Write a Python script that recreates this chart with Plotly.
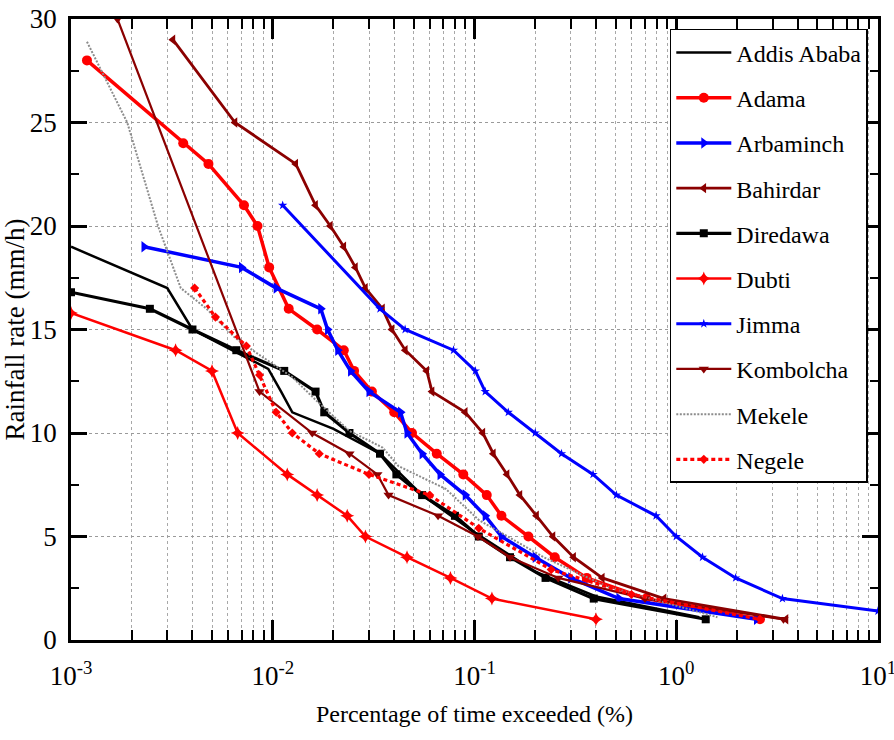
import plotly.graph_objects as go

# Percentage of time exceeded (%) and rainfall rate (mm/h) per station
addis_x = [0.001, 0.003, 0.004, 0.006, 0.0095, 0.011, 0.0125, 0.02, 0.034, 0.055, 0.1, 0.2, 0.4, 1.3]
addis_y = [19, 17, 15, 14.1, 13.1, 12, 11, 10.2, 9, 7, 5.2, 3.3, 2.1, 1.1]

adama_x = [0.0012, 0.0036, 0.0048, 0.0072, 0.0084, 0.0096, 0.012, 0.0166, 0.0225, 0.0253,
           0.031, 0.04, 0.049, 0.065, 0.088, 0.115, 0.136, 0.185, 0.25, 0.36, 0.71, 2.6]
adama_y = [28, 24, 23, 21, 20, 18, 16, 15, 14, 13, 12, 11, 10, 9, 8, 7, 6, 5, 4, 3, 2, 1]

arbaminch_x = [0.0023, 0.007, 0.0104, 0.0173, 0.0187, 0.021, 0.0243, 0.03, 0.043, 0.0463,
               0.055, 0.0675, 0.09, 0.113, 0.136, 0.2, 0.3, 0.52, 2.5]
arbaminch_y = [19, 18, 17, 16, 15, 14, 13, 12, 11, 10, 9, 8, 7, 6, 5, 4, 3, 2, 1]

bahirdar_x = [0.0032, 0.0065, 0.013, 0.0163, 0.0193, 0.0225, 0.0257, 0.0288, 0.035, 0.039,
              0.0454, 0.058, 0.0616, 0.09, 0.11, 0.124, 0.145, 0.168, 0.203, 0.245, 0.31,
              0.43, 0.87, 3.5]
bahirdar_y = [29, 25, 23, 21, 20, 19, 18, 17, 16, 15, 14, 13, 12, 11, 10, 9, 8, 7, 6, 5, 4, 3, 2, 1]

diredawa_x = [0.001, 0.00246, 0.004, 0.0066, 0.0114, 0.0163, 0.018, 0.024, 0.034, 0.041,
              0.055, 0.08, 0.105, 0.15, 0.225, 0.39, 1.4]
diredawa_y = [16.8, 16, 15, 14, 13, 12, 11, 10, 9, 8, 7, 6, 5, 4, 3, 2, 1]

dubti_x = [0.001, 0.0033, 0.005, 0.0067, 0.0118, 0.0166, 0.0234, 0.0288, 0.0463, 0.076, 0.122, 0.4]
dubti_y = [15.8, 14, 13, 10, 8, 7, 6, 5, 4, 3, 2, 1]

jimma_x = [0.0112, 0.034, 0.0453, 0.0787, 0.101, 0.113, 0.147, 0.2, 0.27, 0.387, 0.505,
           0.794, 1.0, 1.35, 1.97, 3.36, 10]
jimma_y = [21, 16, 15, 14, 13, 12, 11, 10, 9, 8, 7, 6, 5, 4, 3, 2, 1.4]

kombolcha_x = [0.0017, 0.0086, 0.0157, 0.024, 0.033, 0.0375, 0.066, 0.104, 0.15, 0.26, 0.7, 3.4]
kombolcha_y = [30, 12, 10, 9, 8, 7, 6, 5, 4, 3, 2, 1]

mekele_x = [0.0012, 0.0019, 0.0027, 0.0035, 0.0047, 0.0065, 0.0085, 0.0125, 0.0163, 0.024,
            0.035, 0.042, 0.072, 0.105, 0.22, 0.45, 1.6]
mekele_y = [28.9, 25, 20, 17, 16, 14.6, 13.8, 12.7, 11.6, 10.1, 9.3, 8.4, 7.3, 5.8, 4, 2.6, 1.1]

negele_x = [0.0041, 0.0052, 0.0074, 0.0086, 0.0104, 0.0125, 0.017, 0.03, 0.06, 0.105, 0.24, 0.6, 2.6]
negele_y = [17, 15.6, 14.2, 12.8, 11, 10, 9, 8, 7, 5.4, 3.4, 2.2, 1]

x_major = [0.001, 0.01, 0.1, 1, 10]
x_major_text = ["10<sup>-3</sup>", "10<sup>-2</sup>", "10<sup>-1</sup>", "10<sup>0</sup>", "10<sup>1</sup>"]
y_major = [0, 5, 10, 15, 20, 25, 30]

RED = "#ff0000"
BLUE = "#0000ff"
DARK = "#8b0000"
BLACK = "#000000"

series = [
    ("Addis Ababa", addis_x, addis_y, dict(color=BLACK, width=2.5), None),
    ("Adama", adama_x, adama_y, dict(color=RED, width=3.5), dict(symbol="circle", size=10)),
    ("Arbaminch", arbaminch_x, arbaminch_y, dict(color=BLUE, width=3.5), dict(symbol="triangle-right", size=10)),
    ("Bahirdar", bahirdar_x, bahirdar_y, dict(color=DARK, width=2.8), dict(symbol="triangle-left", size=9)),
    ("Diredawa", diredawa_x, diredawa_y, dict(color=BLACK, width=3.2), dict(symbol="square", size=8)),
    ("Dubti", dubti_x, dubti_y, dict(color=RED, width=2.5), dict(symbol="star-diamond", size=10)),
    ("Jimma", jimma_x, jimma_y, dict(color=BLUE, width=3), dict(symbol="star", size=7)),
    ("Kombolcha", kombolcha_x, kombolcha_y, dict(color=DARK, width=2.2), dict(symbol="triangle-down", size=9)),
    ("Mekele", mekele_x, mekele_y, dict(color="#8c8c8c", width=2, dash="2px,1.5px"), None),
    ("Negele", negele_x, negele_y, dict(color=RED, width=3.2, dash="4px,3px"), dict(symbol="diamond", size=7)),
]

fig = go.Figure()
for name, xs, ys, line, marker in series:
    if marker is None:
        fig.add_trace(go.Scatter(x=xs, y=ys, name=name, mode="lines", line=line,
                                 legendgroup=name))
    else:
        marker = dict(marker, color=line["color"], line=dict(width=0))
        fig.add_trace(go.Scatter(x=xs, y=ys, name=name, mode="lines+markers", line=line,
                                 marker=marker, legendgroup=name))

x_minor = [k * 10.0 ** p for p in range(-3, 1) for k in range(2, 10)]

serif = "Liberation Serif, Times New Roman, serif"

fig.update_layout(
    width=894, height=740,
    margin=dict(l=71, r=16, t=19, b=100),
    paper_bgcolor="white", plot_bgcolor="white",
    font=dict(family=serif, size=22, color="black"),
    showlegend=True,
    legend=dict(
        x=0.742, y=0.984, xanchor="left", yanchor="top",
        bgcolor="white", bordercolor="black", borderwidth=1.5,
        font=dict(family=serif, size=24, color="black"),
        itemwidth=55, tracegroupgap=11,
    ),
)

fig.update_xaxes(
    type="log", range=[-3, 1], automargin=False,
    tickmode="array", tickvals=x_major, ticktext=x_major_text,
    tickfont=dict(size=27),
    ticklabelstandoff=10, ticklabeloverflow="allow",
    ticks="inside", ticklen=20, tickwidth=2.5, tickcolor="black",
    showline=True, linewidth=2.5, linecolor="black", mirror="allticks",
    showgrid=True, gridcolor="#9a9a9a", gridwidth=1, griddash="dot",
    zeroline=False,
    minor=dict(tickmode="array", tickvals=x_minor, ticks="inside", ticklen=10,
               tickwidth=2, tickcolor="black", showgrid=True,
               gridcolor="#a8a8a8", gridwidth=1, griddash="dot"),
    title=dict(text="Percentage of time exceeded (%)", font=dict(size=24), standoff=16),
)

fig.update_yaxes(
    range=[0, 30], automargin=False,
    tickmode="array", tickvals=y_major,
    tickfont=dict(size=27),
    ticks="inside", ticklen=16, tickwidth=2.5, tickcolor="black",
    showline=True, linewidth=2.5, linecolor="black", mirror="allticks",
    showgrid=True, gridcolor="#9a9a9a", gridwidth=1, griddash="dot",
    zeroline=False,
    ticklabelstandoff=6,
    minor=dict(dtick=2.5, tick0=0, ticks="inside", ticklen=8, tickwidth=2,
               tickcolor="black", showgrid=False),
    title=dict(text="Rainfall rate (mm/h)", font=dict(size=27), standoff=4),
)

fig.write_html("out.html")
